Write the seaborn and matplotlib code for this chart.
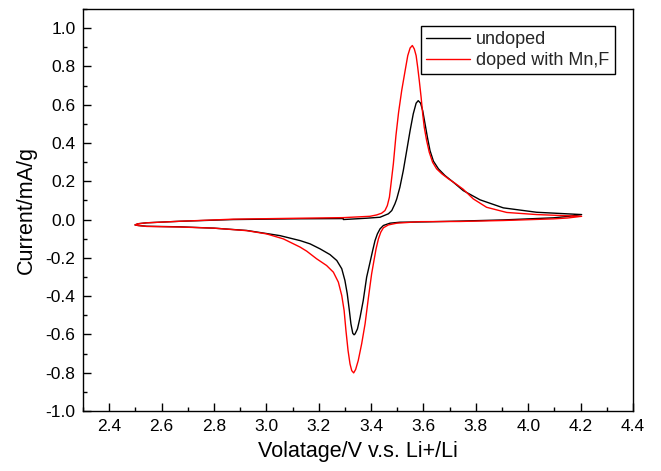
import matplotlib
matplotlib.use("Agg")
import matplotlib.pyplot as plt
from matplotlib.ticker import MultipleLocator, FormatStrFormatter
import pandas as pd
import seaborn as sns

# ---- data (scan order: forward -> reverse -> return) ----
undoped_v = [3.294, 3.383, 3.434, 3.466, 3.479, 3.491, 3.498, 3.510, 3.523, 3.536, 3.549, 3.561,
             3.572, 3.580, 3.589, 3.597, 3.606, 3.615, 3.625, 3.638, 3.657, 3.682, 3.714, 3.752,
             3.816, 3.905, 4.032, 4.204,
             4.150, 4.096, 3.905, 3.740, 3.612, 3.510, 3.472, 3.447, 3.434, 3.424, 3.415, 3.406,
             3.396, 3.383, 3.370, 3.358, 3.348, 3.339, 3.335, 3.330, 3.323, 3.317, 3.309, 3.300,
             3.288, 3.269, 3.243, 3.205, 3.167, 3.129, 3.052, 2.925, 2.800, 2.670, 2.543, 2.510, 2.4985,
             2.510, 2.543, 2.670, 2.874, 3.129, 3.294]
undoped_i = [0.000, 0.007, 0.012, 0.030, 0.047, 0.082, 0.108, 0.169, 0.256, 0.360, 0.465, 0.552,
             0.608, 0.621, 0.608, 0.569, 0.500, 0.430, 0.360, 0.305, 0.265, 0.230, 0.195, 0.151,
             0.103, 0.061, 0.038, 0.026,
             0.016, 0.009, -0.002, -0.008, -0.012, -0.014, -0.019, -0.031, -0.049, -0.075, -0.110, -0.162,
             -0.223, -0.301, -0.423, -0.510, -0.571, -0.597, -0.602, -0.594, -0.545, -0.475, -0.388, -0.318,
             -0.257, -0.214, -0.183, -0.153, -0.127, -0.110, -0.084, -0.057, -0.045, -0.038, -0.035, -0.031, -0.028,
             -0.022, -0.017, -0.009, 0.000, 0.004, 0.005]

doped_v = [3.294, 3.396, 3.421, 3.440, 3.453, 3.462, 3.470, 3.476, 3.485, 3.495, 3.505, 3.517,
           3.530, 3.540, 3.549, 3.5575, 3.565, 3.572, 3.578, 3.584, 3.591, 3.597, 3.603, 3.612,
           3.622, 3.635, 3.650, 3.670, 3.695, 3.720, 3.752, 3.790, 3.841, 3.918, 4.032, 4.204,
           4.150, 4.096, 3.905, 3.740, 3.587, 3.498, 3.466, 3.447, 3.437, 3.428, 3.419, 3.411,
           3.402, 3.390, 3.377, 3.364, 3.351, 3.341, 3.3335, 3.326, 3.3195, 3.312, 3.304, 3.297,
           3.288, 3.275, 3.256, 3.230, 3.192, 3.154, 3.129, 3.065, 3.001, 2.925, 2.800, 2.670,
           2.543, 2.510, 2.4985,
           2.510, 2.543, 2.670, 2.874, 3.129, 3.294]
doped_i = [0.010, 0.017, 0.024, 0.033, 0.047, 0.073, 0.117, 0.186, 0.291, 0.440, 0.560, 0.675,
           0.778, 0.856, 0.896, 0.909, 0.891, 0.856, 0.795, 0.726, 0.639, 0.552, 0.482, 0.413,
           0.352, 0.299, 0.265, 0.239, 0.213, 0.190, 0.158, 0.108, 0.064, 0.037, 0.026, 0.017,
           0.008, 0.0035, -0.005, -0.010, -0.011, -0.019, -0.028, -0.043, -0.066, -0.101, -0.153, -0.214,
           -0.284, -0.406, -0.545, -0.649, -0.736, -0.783, -0.801, -0.789, -0.754, -0.684, -0.580, -0.475,
           -0.397, -0.327, -0.275, -0.240, -0.205, -0.165, -0.144, -0.101, -0.075, -0.058, -0.045, -0.039,
           -0.036, -0.031, -0.028,
           -0.022, -0.017, -0.009, 0.002, 0.007, 0.010]

series_names = ["undoped", "doped with Mn,F"]
series_colors = ["black", "red"]

x_label = "Volatage/V v.s. Li+/Li"
y_label = "Current/mA/g"

# ---- build table ----
rows = []
for name, vs, cs in [(series_names[0], undoped_v, undoped_i), (series_names[1], doped_v, doped_i)]:
    for k, (v, c) in enumerate(zip(vs, cs)):
        rows.append({"series": name, "step": k, "V": v, "I": c})
df = pd.DataFrame(rows)

sns.set_theme(style="ticks")
plt.rcParams["font.family"] = ["Liberation Sans", "DejaVu Sans"]

fig = plt.figure(figsize=(6.61, 4.71), dpi=100)
ax = fig.add_axes([0.1256, 0.1274, 0.832, 0.8536])

sns.lineplot(data=df, x="V", y="I", hue="series", hue_order=series_names,
             palette=dict(zip(series_names, series_colors)), sort=False, estimator=None,
             linewidth=1.0, ax=ax)

ax.set_xlim(2.3, 4.4)
ax.set_ylim(-1.0, 1.1)
ax.xaxis.set_major_locator(MultipleLocator(0.2))
ax.xaxis.set_minor_locator(MultipleLocator(0.1))
ax.yaxis.set_major_locator(MultipleLocator(0.2))
ax.yaxis.set_minor_locator(MultipleLocator(0.1))
ax.xaxis.set_major_formatter(FormatStrFormatter("%.1f"))
ax.yaxis.set_major_formatter(FormatStrFormatter("%.1f"))
ax.tick_params(which="both", direction="in", top=False, right=False, width=1.0, colors="black",
               labelsize=12.5)
ax.tick_params(which="major", length=6)
ax.tick_params(which="minor", length=3)
ax.tick_params(axis="x", which="major", pad=6)
ax.tick_params(axis="y", which="major", pad=5.5)
for s in ax.spines.values():
    s.set_visible(True)
    s.set_linewidth(1.0)
    s.set_color("black")

ax.set_xlabel(x_label, fontsize=15.5, color="black", labelpad=5)
ax.set_ylabel(y_label, fontsize=15.5, color="black", labelpad=6)

handles, labels = ax.get_legend_handles_labels()
leg = ax.legend(handles, labels, loc="upper left", bbox_to_anchor=(0.6145, 0.958),
                frameon=True, fancybox=False, framealpha=1, edgecolor="black",
                fontsize=13, handlelength=2.4, borderaxespad=0, borderpad=0.3,
                labelspacing=0.2, handletextpad=0.35)
leg.get_frame().set_linewidth(1.0)

fig.savefig("out.png", dpi=100)
